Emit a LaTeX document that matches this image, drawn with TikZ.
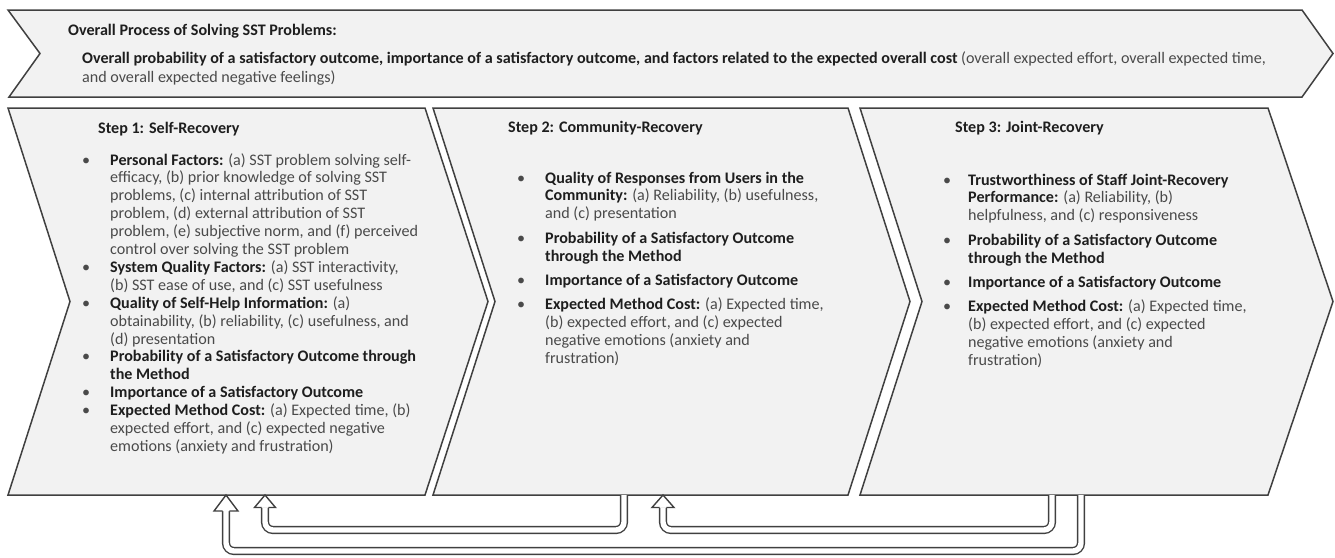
\documentclass[tikz,border=0pt]{standalone}
\usepackage{fontspec}
\setmainfont{Carlito}
\usetikzlibrary{calc}
\definecolor{fillc}{HTML}{F2F2F2}
\definecolor{edgec}{HTML}{404040}
\definecolor{txtb}{HTML}{1E1E1E}
\definecolor{txtr}{HTML}{4A4A4A}
\newcommand{\B}[1]{{\color{txtb}\bfseries #1}}
\newcommand{\bodyfont}{\fontsize{16.1}{17.9}\selectfont\color{txtr}}
\newcommand{\hollowhead}[3]{%
  \filldraw[fill=white, draw=edgec, line width=1.4pt, line join=miter]
    ($(#1)+(-3.4,#3)$) -- ($(#1)+(-#2,#3)$) -- (#1) -- ($(#1)+(#2,#3)$) -- ($(#1)+(3.4,#3)$);}
\tikzset{
  chev/.style={fill=fillc, draw=edgec, line width=1.5pt, line join=miter},
  hollow/.style={draw=edgec, line width=1.4pt, double=white, double distance=5.4pt, rounded corners=8pt},
  txt/.style={anchor=base west, inner sep=0pt, font=\bodyfont},
}
\begin{document}
\begin{tikzpicture}[x=1pt, y=-1pt]
\useasboundingbox (0,0) rectangle (1335,557);

% banner
\draw[chev] (8,10) -- (1302,10) -- (1333,53.5) -- (1302,97) -- (9,97) -- (40,53.5) -- cycle;
\node[txt] (bt) at (68,35.5) {\B{Overall Process of Solving SST Problems:}};
\node[txt] (bb) at (82,63.5) {\begin{tabular}[t]{@{}l@{}}
\B{Overall probability of a satisfactory outcome, importance of a satisfactory outcome, and factors related to the expected overall cost} (overall expected effort, overall expected time,\\[1.5pt]
and overall expected negative feelings)
\end{tabular}};

% step chevrons
\draw[chev] (8,108) -- (425,108) -- (488,301.5) -- (425,495) -- (8,495) -- (70,301.5) -- cycle;
\draw[chev] (433,108) -- (848,108) -- (910,301.5) -- (848,495) -- (433,495) -- (495,301.5) -- cycle;
\draw[chev] (860,108) -- (1268,108) -- (1333,301.5) -- (1268,495) -- (860,495) -- (922,301.5) -- cycle;

% headings
\node[txt] (h1) at (98,133) {\B{Step 1: Self-Recovery}};
\node[txt] (h2) at (508,132.5) {\B{Step 2: Community-Recovery}};
\node[txt] (h3) at (955,132.5) {\B{Step 3: Joint-Recovery}};

% step 1 list
\node[txt] (l1) at (82,165) {\begin{tabular}[t]{@{}p{28pt}@{}l@{}}
\textbullet & \B{Personal Factors:} (a) SST problem solving self-\\
 & efficacy, (b) prior knowledge of solving SST\\
 & problems, (c) internal attribution of SST\\
 & problem, (d) external attribution of SST\\
 & problem, (e) subjective norm, and (f) perceived\\
 & control over solving the SST problem\\
\textbullet & \B{System Quality Factors:} (a) SST interactivity,\\
 & (b) SST ease of use, and (c) SST usefulness\\
\textbullet & \B{Quality of Self-Help Information:} (a)\\
 & obtainability, (b) reliability, (c) usefulness, and\\
 & (d) presentation\\
\textbullet & \B{Probability of a Satisfactory Outcome through}\\
 & \B{the Method}\\
\textbullet & \B{Importance of a Satisfactory Outcome}\\
\textbullet & \B{Expected Method Cost:} (a) Expected time, (b)\\
 & expected effort, and (c) expected negative\\
 & emotions (anxiety and frustration)
\end{tabular}};

% step 2 list
\node[txt] (l2) at (517,183) {\begin{tabular}[t]{@{}p{28pt}@{}l@{}}
\textbullet & \B{Quality of Responses from Users in the}\\
 & \B{Community:} (a) Reliability, (b) usefulness,\\
 & and (c) presentation\\[6.5pt]
\textbullet & \B{Probability of a Satisfactory Outcome}\\
 & \B{through the Method}\\[6.5pt]
\textbullet & \B{Importance of a Satisfactory Outcome}\\[6.5pt]
\textbullet & \B{Expected Method Cost:} (a) Expected time,\\
 & (b) expected effort, and (c) expected\\
 & negative emotions (anxiety and\\
 & frustration)
\end{tabular}};

% step 3 list
\node[txt] (l3) at (943,185) {\begin{tabular}[t]{@{}p{25pt}@{}l@{}}
\textbullet & \B{Trustworthiness of Staff Joint-Recovery}\\
 & \B{Performance:} (a) Reliability, (b)\\
 & helpfulness, and (c) responsiveness\\[6.5pt]
\textbullet & \B{Probability of a Satisfactory Outcome}\\
 & \B{through the Method}\\[6.5pt]
\textbullet & \B{Importance of a Satisfactory Outcome}\\[6.5pt]
\textbullet & \B{Expected Method Cost:} (a) Expected time,\\
 & (b) expected effort, and (c) expected\\
 & negative emotions (anxiety and\\
 & frustration)
\end{tabular}};

% connector end points on chevron bottoms
\coordinate (s2a) at (624,495);
\coordinate (s3a) at (1052,495);
\coordinate (s3b) at (1081,495);
\coordinate (t1a) at (265,495);
\coordinate (t2a) at (663,495);
\coordinate (t1b) at (226,495);

% hollow arrows
\draw[hollow] (s2a) |- ($(t1a)+(0,35)$) -- ($(t1a)+(0,12.5)$);
\hollowhead{t1a}{10.5}{12.5}
\draw[hollow] (s3a) |- ($(t2a)+(0,35)$) -- ($(t2a)+(0,12.5)$);
\hollowhead{t2a}{11}{12.5}
\draw[hollow] (s3b) |- ($(t1b)+(0,56)$) -- ($(t1b)+(0,16)$);
\hollowhead{t1b}{12}{16}
\end{tikzpicture}
\end{document}
